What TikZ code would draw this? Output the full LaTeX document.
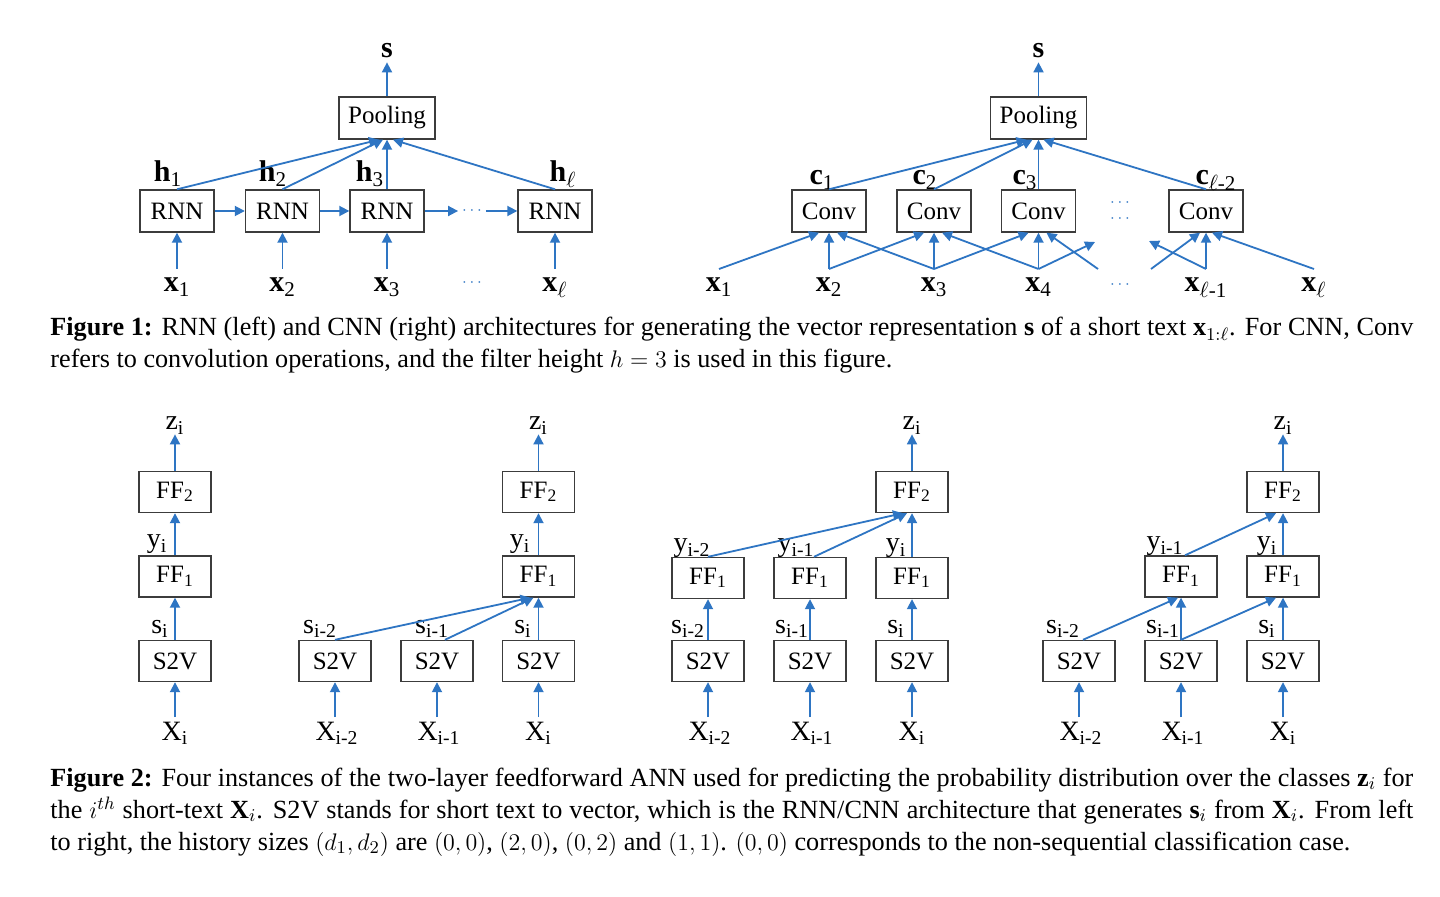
\documentclass[tikz,border=0pt]{standalone}
\usepackage[no-math]{fontspec}
\setmainfont{Liberation Serif}
\usetikzlibrary{arrows.meta}
\definecolor{ablue}{RGB}{46,117,195}
\definecolor{bgray}{RGB}{60,60,60}
\newcommand{\msub}[2]{#1\textsubscript{#2}}
\newcommand{\bsub}[2]{\textbf{#1}\textsubscript{#2}}
\begin{document}
\begin{tikzpicture}[x=0.5pt,y=-0.5pt,
  box/.style={draw=bgray,line width=0.7pt,minimum width=37pt,minimum height=21pt,inner sep=0pt,font=\fontsize{12.5}{14}\selectfont},
  fbox/.style={draw=bgray,line width=0.7pt,minimum width=36pt,minimum height=20.5pt,inner sep=0pt,font=\fontsize{12.5}{14}\selectfont},
  arr/.style={draw=ablue,line width=0.9pt,-{Triangle[length=5pt,width=5pt]}},
  lab/.style={font=\fontsize{15}{17}\selectfont,inner sep=0pt,text height=7pt,text depth=2pt},
  xlab/.style={lab,outer ysep=4.5pt},
  lab2/.style={font=\fontsize{14}{16}\selectfont,inner sep=0pt,text height=7pt,text depth=2pt},
  Xlab/.style={font=\fontsize{14}{16}\selectfont,inner sep=0pt,text height=9pt,text depth=2pt,outer ysep=2.5pt},
  dots/.style={text=ablue,font=\fontsize{8}{9}\selectfont,inner sep=0pt,outer sep=2pt},
  captext/.style={anchor=base west,inner sep=0pt}
]
\useasboundingbox[fill=white] (0,0) rectangle (1440,897);

% ---------- Figure 1 left: RNN ----------
\node[box,minimum width=48pt] (poolA) at (387,118) {Pooling};
\node[lab] (sA) at (387,53) {\textbf{s}};
\node[box] (r1) at (177,211) {RNN};
\node[box] (r2) at (282.5,211) {RNN};
\node[box] (r3) at (387,211) {RNN};
\node[box] (r4) at (555,211) {RNN};
\node[dots] (rd) at (472,211) {$\cdots$};
\node[dots] (xd) at (472,283) {$\cdots$};
\node[lab] (h1) at (168,177) {\bsub{h}{1}};
\node[lab] (h2) at (273,177) {\bsub{h}{2}};
\node[lab] (h3) at (370,177) {\bsub{h}{3}};
\node[lab] (h4) at (563,177) {\bsub{h}{$\ell$}};
\node[xlab] (x1) at (177,287) {\bsub{x}{1}};
\node[xlab] (x2) at (282.5,287) {\bsub{x}{2}};
\node[xlab] (x3) at (387,287) {\bsub{x}{3}};
\node[xlab] (x4) at (555,287) {\bsub{x}{$\ell$}};
\draw[arr] (x1.north -| r1.south) -- (r1.south);
\draw[arr] (x2.north -| r2.south) -- (r2.south);
\draw[arr] (x3.north -| r3.south) -- (r3.south);
\draw[arr] (x4.north -| r4.south) -- (r4.south);
\draw[arr] (r1) -- (r2);
\draw[arr] (r2) -- (r3);
\draw[arr] (r3.east) -- (rd.west);
\draw[arr] (rd.east) -- (r4.west);
\draw[arr] (r1.north) -- ([xshift=-4pt]poolA.south);
\draw[arr] (r2.north) -- ([xshift=-2pt]poolA.south);
\draw[arr] (r3.north) -- (poolA.south);
\draw[arr] (r4.north) -- ([xshift=3pt]poolA.south);
\draw[arr] (poolA.north) -- (sA.south);

% ---------- Figure 1 right: CNN ----------
\node[box,minimum width=48pt] (poolB) at (1038.5,118) {Pooling};
\node[lab] (sB) at (1038.5,53) {\textbf{s}};
\node[box] (c1) at (829,211) {Conv};
\node[box] (c2) at (934,211) {Conv};
\node[box] (c3) at (1038.5,211) {Conv};
\node[box] (c4) at (1206,211) {Conv};
\node[lab] (lc1) at (822,180) {\bsub{c}{1}};
\node[lab] (lc2) at (925,180) {\bsub{c}{2}};
\node[lab] (lc3) at (1025,180) {\bsub{c}{3}};
\node[lab] (lc4) at (1216,180) {\bsub{c}{$\ell$-2}};
\node[dots] (cd1) at (1120,203) {$\cdots$};
\node[dots] (cd2) at (1120,219) {$\cdots$};
\node[dots] (cd3) at (1120,285) {$\cdots$};
\node[xlab] (y1) at (719,287) {\bsub{x}{1}};
\node[xlab] (y2) at (829,287) {\bsub{x}{2}};
\node[xlab] (y3) at (934,287) {\bsub{x}{3}};
\node[xlab] (y4) at (1038.5,287) {\bsub{x}{4}};
\node[xlab] (y5) at (1206,287) {\bsub{x}{$\ell$-1}};
\node[xlab] (y6) at (1314,287) {\bsub{x}{$\ell$}};
\coordinate (x5s) at (1098,269);
\coordinate (xas) at (1151,269);
\coordinate (d4) at (1095,242);
\coordinate (dl) at (1149,241);
% into conv1
\draw[arr] (y1.north) -- ([xshift=-5pt]c1.south);
\draw[arr] (y2.north) -- (c1.south);
\draw[arr] (y3.north) -- ([xshift=4pt]c1.south);
% into conv2
\draw[arr] (y2.north) -- ([xshift=-5pt]c2.south);
\draw[arr] (y3.north) -- (c2.south);
\draw[arr] (y4.north) -- ([xshift=4pt]c2.south);
% into conv3
\draw[arr] (y3.north) -- ([xshift=-5pt]c3.south);
\draw[arr] (y4.north) -- (c3.south);
\draw[arr] (x5s) -- ([xshift=4pt]c3.south);
\draw[arr] (y4.north) -- (d4);
% into conv l-2
\draw[arr] (xas) -- ([xshift=-3pt]c4.south);
\draw[arr] (y5.north) -- (c4.south);
\draw[arr] (y6.north) -- ([xshift=3pt]c4.south);
\draw[arr] (y5.north) -- (dl);
% to pooling
\draw[arr] (c1.north) -- ([xshift=-6pt]poolB.south);
\draw[arr] (c2.north) -- ([xshift=-3pt]poolB.south);
\draw[arr] (c3.north) -- (poolB.south);
\draw[arr] (c4.north) -- ([xshift=2.5pt]poolB.south);
\draw[arr] (poolB.north) -- (sB.south);

% ---------- Caption 1 ----------
\node[captext] (cap1) at (50,336) {\parbox[t]{681.5pt}{\fontsize{13.1}{16}\selectfont
\textbf{Figure 1:} RNN (left) and CNN (right) architectures for generating the vector representation \textbf{s} of a short text \textbf{x}$_{1:\ell}$. For CNN, Conv\linebreak
refers to convolution operations, and the filter height $h=3$ is used in this figure.}};

% ---------- Figure 2, panel A (0,0) ----------
\node[fbox] (aF2) at (175,492) {\msub{FF}{2}};
\node[fbox] (aF1) at (175,576.5) {\msub{FF}{1}};
\node[fbox] (aS) at (175,661) {S2V};
\node[lab2] (az) at (175,425) {\msub{z}{i}};
\node[lab2] (ay) at (157,543) {\msub{y}{i}};
\node[lab2] (as) at (160,628) {\msub{s}{i}};
\node[Xlab] (aX) at (175,733) {\msub{X}{i}};
\draw[arr] (aX.north) -- (aS.south);
\draw[arr] (aS) -- (aF1);
\draw[arr] (aF1) -- (aF2);
\draw[arr] (aF2.north) -- (az.south);

% ---------- panel B (2,0) ----------
\node[fbox] (bF2) at (538.5,492) {\msub{FF}{2}};
\node[fbox] (bF1) at (538.5,576.5) {\msub{FF}{1}};
\node[fbox] (bS1) at (335,661) {S2V};
\node[fbox] (bS2) at (437,661) {S2V};
\node[fbox] (bS3) at (538.5,661) {S2V};
\node[lab2] (bz) at (538.5,425) {\msub{z}{i}};
\node[lab2] (by) at (520,543) {\msub{y}{i}};
\node[lab2] (bs1) at (320,628) {\msub{s}{i-2}};
\node[lab2] (bs2) at (432,628) {\msub{s}{i-1}};
\node[lab2] (bs3) at (523,628) {\msub{s}{i}};
\node[Xlab] (bX1) at (337,733) {\msub{X}{i-2}};
\node[Xlab] (bX2) at (439,733) {\msub{X}{i-1}};
\node[Xlab] (bX3) at (538.5,733) {\msub{X}{i}};
\draw[arr] (bX1.north -| bS1.south) -- (bS1.south);
\draw[arr] (bX2.north -| bS2.south) -- (bS2.south);
\draw[arr] (bX3.north -| bS3.south) -- (bS3.south);
\draw[arr] (bS1.north) -- ([xshift=-4pt]bF1.south);
\draw[arr] ([xshift=4pt]bS2.north) -- ([xshift=-2.5pt]bF1.south);
\draw[arr] (bS3) -- (bF1);
\draw[arr] (bF1) -- (bF2);
\draw[arr] (bF2.north) -- (bz.south);

% ---------- panel C (0,2) ----------
\node[fbox] (cF2) at (912,492) {\msub{FF}{2}};
\node[fbox] (cF11) at (708,578) {\msub{FF}{1}};
\node[fbox] (cF12) at (810,578) {\msub{FF}{1}};
\node[fbox] (cF13) at (912,578) {\msub{FF}{1}};
\node[fbox] (cS1) at (708,661) {S2V};
\node[fbox] (cS2) at (810,661) {S2V};
\node[fbox] (cS3) at (912,661) {S2V};
\node[lab2] (cz) at (912,425) {\msub{z}{i}};
\node[lab2] (cy1) at (692,547) {\msub{y}{i-2}};
\node[lab2] (cy2) at (796,547) {\msub{y}{i-1}};
\node[lab2] (cy3) at (896,547) {\msub{y}{i}};
\node[lab2] (cs1) at (688,628) {\msub{s}{i-2}};
\node[lab2] (cs2) at (792,628) {\msub{s}{i-1}};
\node[lab2] (cs3) at (896,628) {\msub{s}{i}};
\node[Xlab] (cX1) at (710,733) {\msub{X}{i-2}};
\node[Xlab] (cX2) at (812,733) {\msub{X}{i-1}};
\node[Xlab] (cX3) at (912,733) {\msub{X}{i}};
\draw[arr] (cX1.north -| cS1.south) -- (cS1.south);
\draw[arr] (cX2.north -| cS2.south) -- (cS2.south);
\draw[arr] (cX3.north -| cS3.south) -- (cS3.south);
\draw[arr] (cS1) -- (cF11);
\draw[arr] (cS2) -- (cF12);
\draw[arr] (cS3) -- (cF13);
\draw[arr] (cF11.north) -- ([xshift=-4.5pt]cF2.south);
\draw[arr] ([xshift=2pt]cF12.north) -- ([xshift=-2.5pt]cF2.south);
\draw[arr] (cF13) -- (cF2);
\draw[arr] (cF2.north) -- (cz.south);

% ---------- panel D (1,1) ----------
\node[fbox] (dF2) at (1283,492) {\msub{FF}{2}};
\node[fbox] (dF12) at (1181,576.5) {\msub{FF}{1}};
\node[fbox] (dF13) at (1283,576.5) {\msub{FF}{1}};
\node[fbox] (dS1) at (1079,661) {S2V};
\node[fbox] (dS2) at (1181,661) {S2V};
\node[fbox] (dS3) at (1283,661) {S2V};
\node[lab2] (dz) at (1283,425) {\msub{z}{i}};
\node[lab2] (dy2) at (1165,545) {\msub{y}{i-1}};
\node[lab2] (dy3) at (1267,545) {\msub{y}{i}};
\node[lab2] (ds1) at (1063,628) {\msub{s}{i-2}};
\node[lab2] (ds2) at (1163,628) {\msub{s}{i-1}};
\node[lab2] (ds3) at (1267,628) {\msub{s}{i}};
\node[Xlab] (dX1) at (1081,733) {\msub{X}{i-2}};
\node[Xlab] (dX2) at (1183,733) {\msub{X}{i-1}};
\node[Xlab] (dX3) at (1283,733) {\msub{X}{i}};
\draw[arr] (dX1.north -| dS1.south) -- (dS1.south);
\draw[arr] (dX2.north -| dS2.south) -- (dS2.south);
\draw[arr] (dX3.north -| dS3.south) -- (dS3.south);
\draw[arr] ([xshift=2pt]dS1.north) -- ([xshift=-1.5pt]dF12.south);
\draw[arr] (dS2) -- (dF12);
\draw[arr] (dS2.north) -- ([xshift=-3.5pt]dF13.south);
\draw[arr] (dS3) -- (dF13);
\draw[arr] ([xshift=2pt]dF12.north) -- ([xshift=-3.5pt]dF2.south);
\draw[arr] (dF13) -- (dF2);
\draw[arr] (dF2.north) -- (dz.south);

% ---------- Caption 2 ----------
\node[captext] (cap2) at (50,786) {\parbox[t]{681.5pt}{\fontsize{13.1}{16}\selectfont
\textbf{Figure 2:} Four instances of the two-layer feedforward ANN used for predicting the probability distribution over the classes \textbf{z}$_i$ for\linebreak
the $i^{th}$ short-text \textbf{X}$_i$. S2V stands for short text to vector, which is the RNN/CNN architecture that generates \textbf{s}$_i$ from \textbf{X}$_i$. From left\linebreak
to right, the history sizes $(d_1,d_2)$ are $(0,0)$, $(2,0)$, $(0,2)$ and $(1,1)$. $(0,0)$ corresponds to the non-sequential classification case.}};
\end{tikzpicture}
\end{document}
